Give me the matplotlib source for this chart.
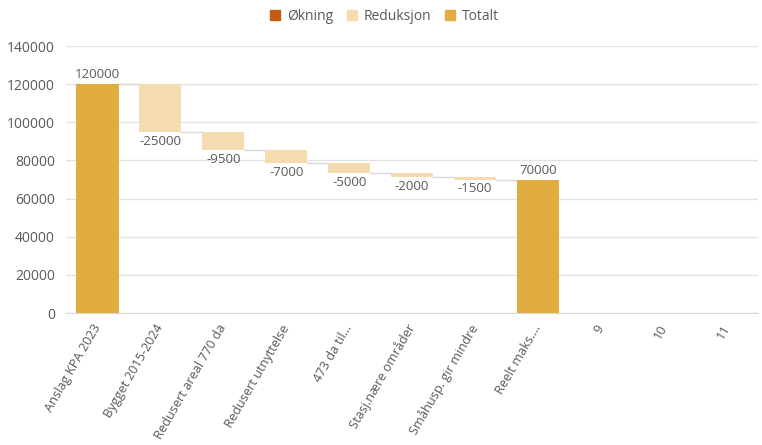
import numpy as np
import matplotlib.pyplot as plt
from matplotlib.patches import Patch

plt.rcParams['font.family'] = ['Open Sans', 'DejaVu Sans']

# ==============================
# DATA
# ==============================
categories = ["Anslag KPA 2023", "Bygget 2015-2024", "Redusert areal 770 da",
              "Redusert utnyttelse", "473 da til...", "Stasj.nære områder",
              "Småhusp. gir mindre", "Reelt maks....", "9", "10", "11"]
start_total = 120000
changes = [-25000, -9500, -7000, -5000, -2000, -1500]
end_total = 70000

col_up = "#C55A11"
col_down = "#F5DCB0"
col_total = "#E2AD40"
txt = "#595959"

# ==============================
# WATERFALL GEOMETRY
# ==============================
x = np.arange(len(categories))
w = 0.67
levels = [start_total]
for c in changes:
    levels.append(levels[-1] + c)

fig = plt.figure(figsize=(7.62, 4.45), dpi=100)
ax = fig.add_axes([0.0866, 0.2966, 0.9084, 0.6])

# first total
ax.bar(x[0], start_total, width=w, color=col_total, zorder=3)
ax.text(x[0], start_total + 1500, f"{start_total}", ha="center", va="bottom",
        color=txt, fontsize=9.5)

# changes
for i, c in enumerate(changes):
    top = levels[i]
    bot = levels[i + 1]
    col = col_down if c < 0 else col_up
    ax.bar(x[i + 1], top - bot, bottom=bot, width=w, color=col, zorder=3)
    ax.text(x[i + 1], min(top, bot) - 1500, f"{c}", ha="center", va="top",
            color=txt, fontsize=9.5)

# final total
n_end = len(changes) + 1
ax.bar(x[n_end], end_total, width=w, color=col_total, zorder=3)
ax.text(x[n_end], end_total + 1500, f"{end_total}", ha="center", va="bottom",
        color=txt, fontsize=9.5)

# connectors
for i, lv in enumerate(levels):
    ax.plot([x[i] + w / 2, x[i + 1] - w / 2], [lv, lv], color="#D9D9D9",
            lw=1, zorder=2)

# ==============================
# AXES STYLE
# ==============================
ax.set_xlim(-0.5, len(categories) - 0.5)
ax.set_ylim(0, 140000)
ax.set_yticks(np.arange(0, 140001, 20000))
ax.yaxis.grid(True, color="#E3E3E3", lw=1, zorder=0)
ax.set_axisbelow(True)
for s in ["top", "right", "left"]:
    ax.spines[s].set_visible(False)
ax.spines["bottom"].set_color("#D9D9D9")
ax.tick_params(axis="y", length=0, colors=txt, labelsize=10, pad=8)
ax.tick_params(axis="x", length=0, colors=txt, labelsize=9.2, pad=9)
ax.set_xticks(x)
ax.set_xticklabels(categories, rotation=60, ha="right", va="center",
                   rotation_mode="anchor")

handles = [Patch(color=col_up, label="Økning"),
           Patch(color=col_down, label="Reduksjon"),
           Patch(color=col_total, label="Totalt")]
fig.legend(handles=handles, loc="center", bbox_to_anchor=(0.505, 0.963), ncol=3,
           frameon=False, fontsize=10, handlelength=0.7, handleheight=0.7,
           handletextpad=0.5, columnspacing=1.0, labelcolor=txt)

fig.savefig("out.png", dpi=100)
